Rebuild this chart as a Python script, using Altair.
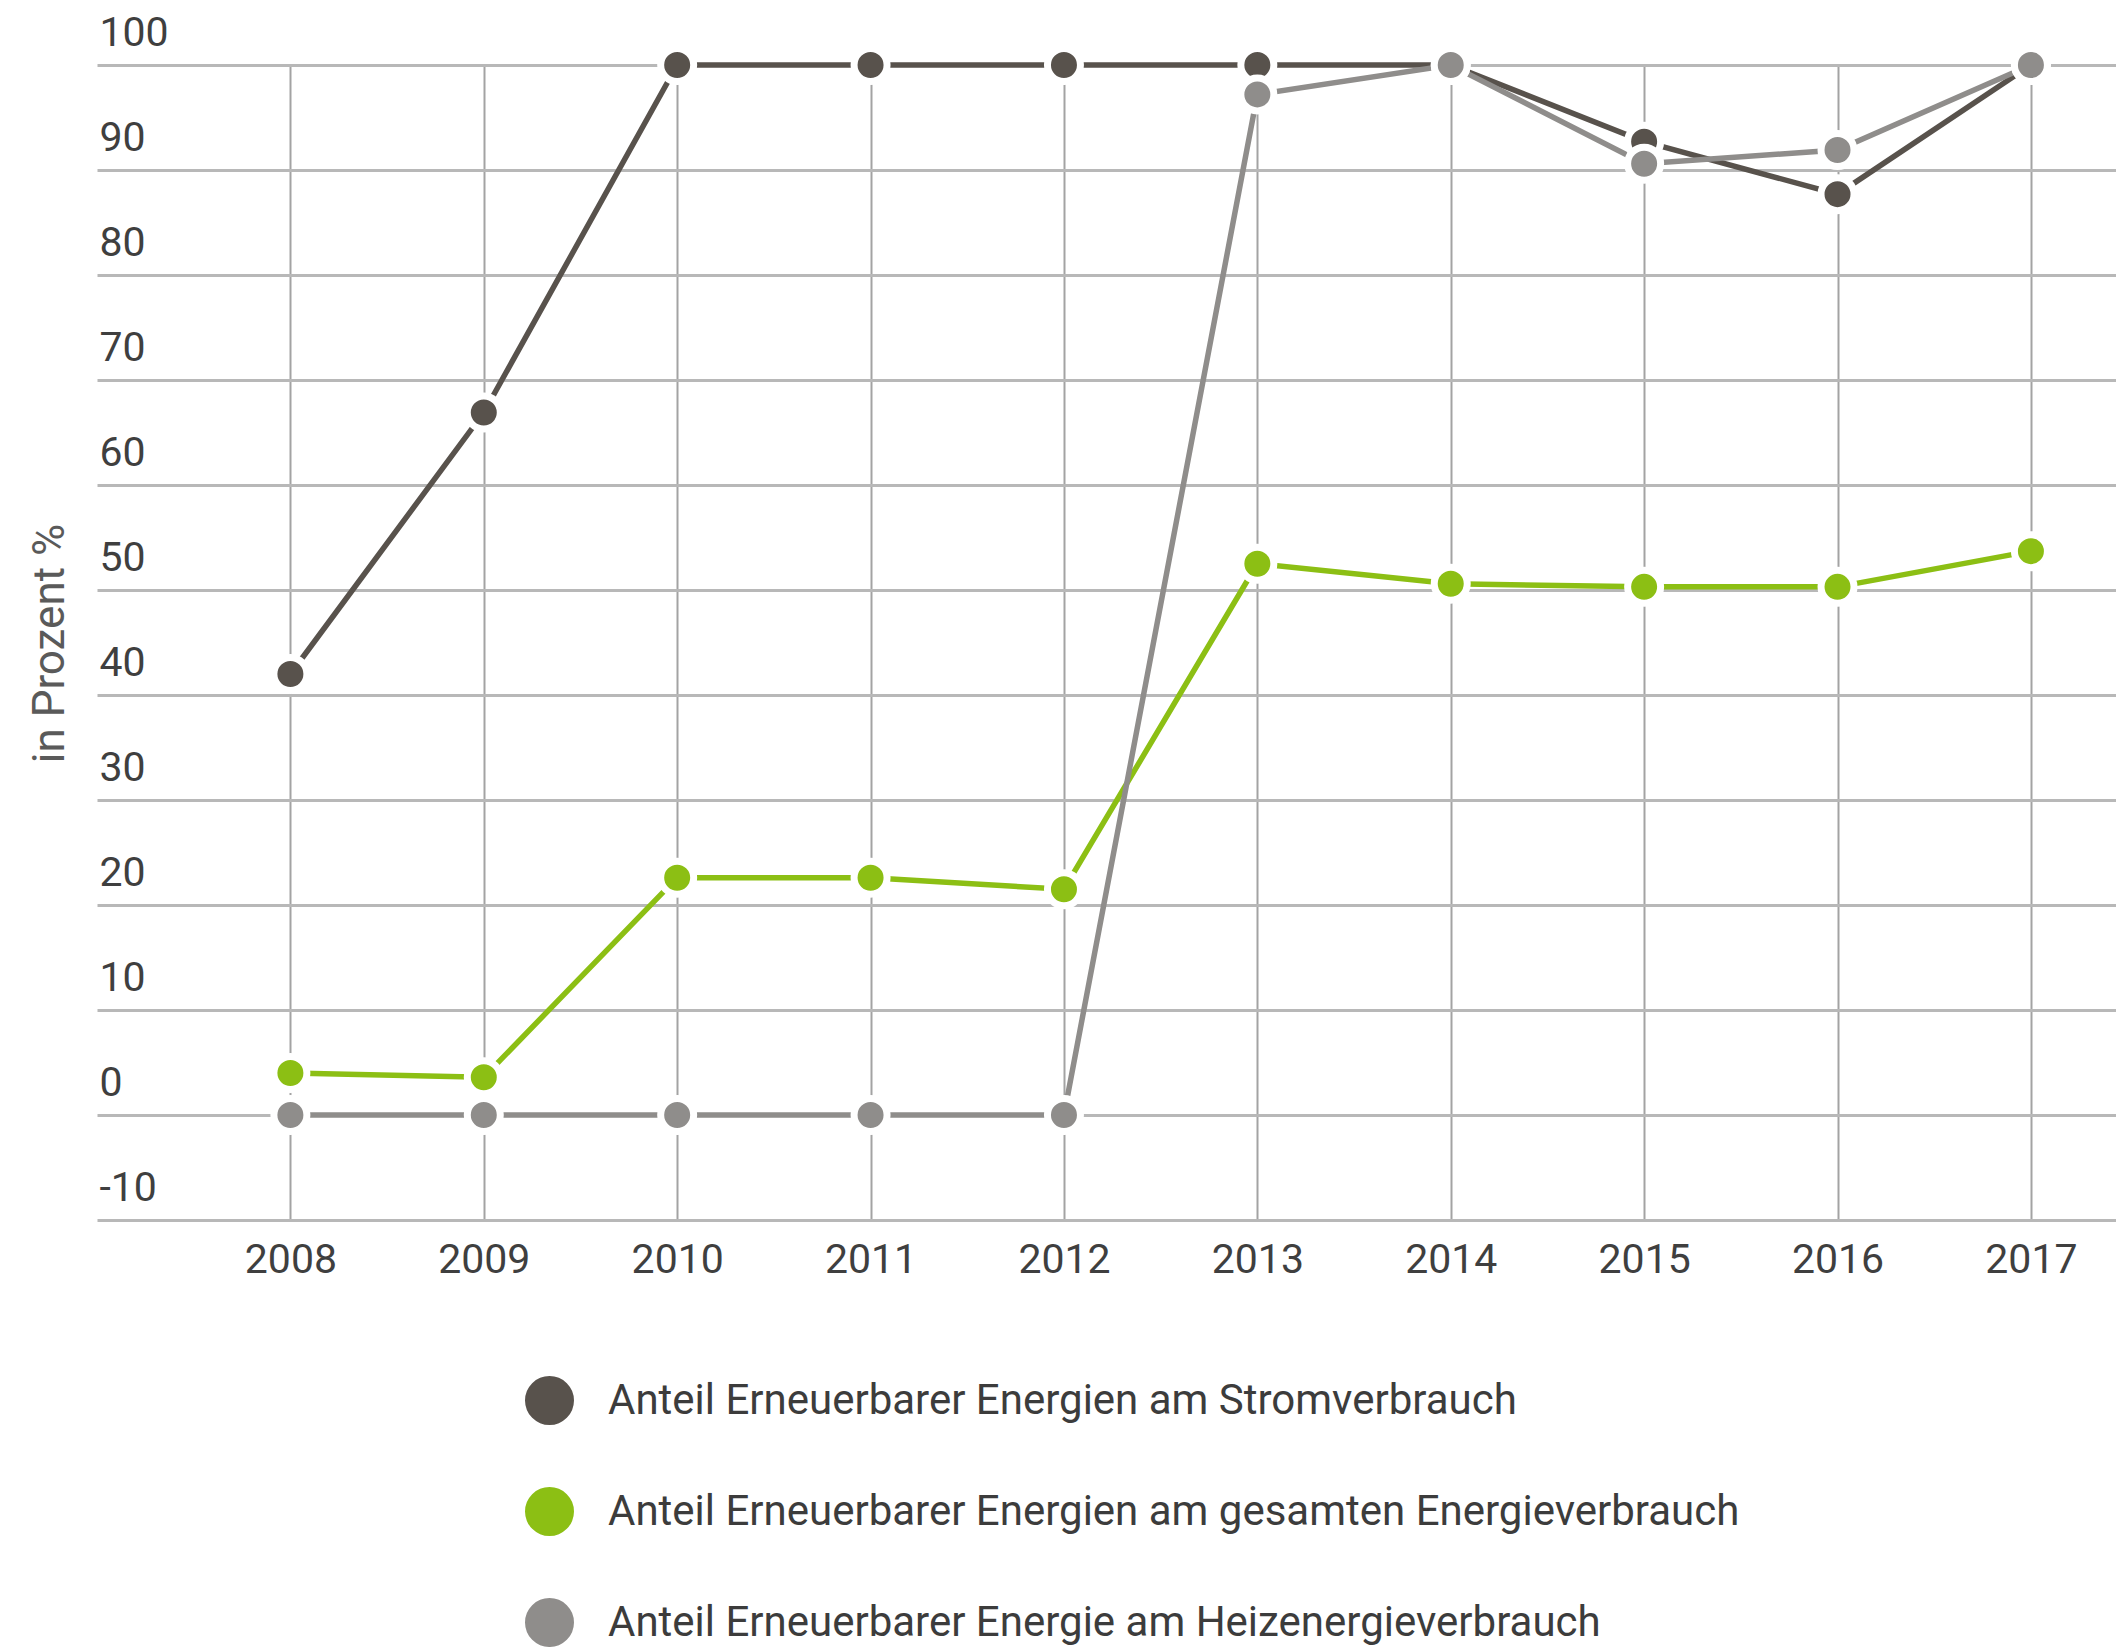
import altair as alt
import pandas as pd

# ---- data ----
years = [2008, 2009, 2010, 2011, 2012, 2013, 2014, 2015, 2016, 2017]
strom = [42.0, 66.9, 100, 100, 100, 100, 100, 92.7, 87.7, 100]
gesamt = [4.0, 3.6, 22.6, 22.6, 21.5, 52.5, 50.6, 50.3, 50.3, 53.7]
heizen = [0, 0, 0, 0, 0, 97.2, 100, 90.6, 91.9, 100]

series_names = [
    "Anteil Erneuerbarer Energien am Stromverbrauch",
    "Anteil Erneuerbarer Energien am gesamten Energieverbrauch",
    "Anteil Erneuerbarer Energie am Heizenergieverbrauch",
]
series_colors = ["#58524c", "#8cbf14", "#8f8d8b"]
y_ticks = [-10, 0, 10, 20, 30, 40, 50, 60, 70, 80, 90, 100]
y_title = "in Prozent %"

rows = []
for name, vals in zip(series_names, [strom, gesamt, heizen]):
    for yr, v in zip(years, vals):
        rows.append({"Jahr": yr, "Wert": v, "Reihe": name, "Linie": name})
df = pd.DataFrame(rows)

FONT = "Roboto"

x_enc = alt.X(
    "Jahr:Q",
    scale=alt.Scale(domain=[2007, 2017.44], nice=False, zero=False),
    axis=alt.Axis(
        values=years, format="d", title=None, grid=True,
        gridColor="#a3a3a3", gridWidth=2, ticks=False, tickSize=0,
        domain=False, labelFontSize=41, labelColor="#3f3f3f",
        labelFont=FONT, labelPadding=20, labelFlush=False, labelOverlap=False,
    ),
)
y_enc = alt.Y(
    "Wert:Q",
    scale=alt.Scale(domain=[-10, 100], nice=False, zero=False),
    axis=alt.Axis(
        values=y_ticks, title=y_title, grid=True, gridColor="#b8b8b8",
        gridWidth=3, ticks=False, tickSize=0, domain=False,
        labelExpr="'' + datum.value",
        labelAlign="left", labelPadding=-2, labelOffset=-20,
        labelBaseline="alphabetic", labelFontSize=41, labelColor="#3f3f3f",
        labelFont=FONT, labelFlush=False, labelOverlap=False,
        titleX=-47, titleY=578, titleAngle=-90, titleAlign="center",
        titleBaseline="middle", titleFontSize=44, titleFontWeight="normal",
        titleColor="#5a5a5a", titleFont=FONT,
    ),
)

lines = alt.Chart(df).mark_line(strokeWidth=5.5).encode(
    x=x_enc,
    y=y_enc,
    stroke=alt.Stroke("Linie:N", scale=alt.Scale(domain=series_names, range=series_colors), legend=None),
    order="Jahr:Q",
)

points = alt.Chart(df).mark_circle(size=1089, opacity=1, stroke="white", strokeWidth=7).encode(
    x=x_enc,
    y=y_enc,
    fill=alt.Fill(
        "Reihe:N",
        scale=alt.Scale(domain=series_names, range=series_colors),
        legend=alt.Legend(
            orient="none", legendX=428, legendY=1311, direction="vertical",
            title=None, symbolType="circle", symbolSize=2400,
            symbolStrokeWidth=0, symbolOpacity=1, labelFontSize=42,
            labelColor="#3c3c3c", labelFont=FONT, labelOffset=34,
            rowPadding=62, labelLimit=0, padding=0,
        ),
    ),
)

chart = alt.layer(lines, points).resolve_scale(fill="independent", stroke="independent").properties(
    width=2019,
    height=1155,
    autosize=alt.AutoSizeParams(type="none"),
    padding={"left": 89, "top": 57, "right": 0, "bottom": 427},
).configure_view(stroke=None)

chart.save("out.html", embed_options={"renderer": "svg", "actions": False})
